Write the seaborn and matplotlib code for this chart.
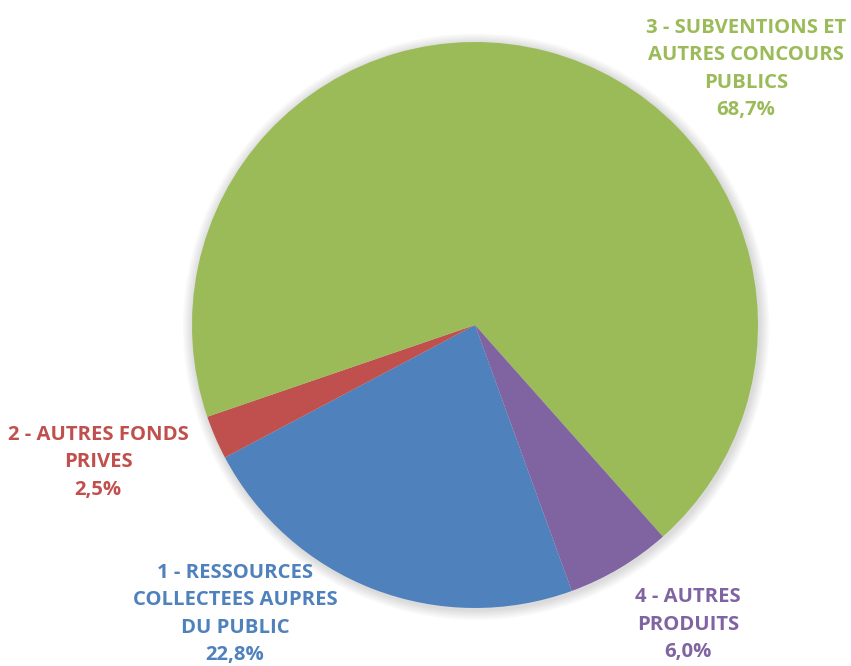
import matplotlib
matplotlib.use("Agg")
import matplotlib.pyplot as plt
import seaborn as sns

# Apply a plain white style
sns.set_style("white")
plt.rcParams['font.family'] = ['Open Sans', 'DejaVu Sans']

# Data
labels = ["1 - RESSOURCES\nCOLLECTEES AUPRES\nDU PUBLIC",
          "2 - AUTRES FONDS\nPRIVES",
          "3 - SUBVENTIONS ET\nAUTRES CONCOURS\nPUBLICS",
          "4 - AUTRES\nPRODUITS"]
shares = [22.8, 2.5, 68.7, 6.0]
share_text = ["22,8%", "2,5%", "68,7%", "6,0%"]
colors = ["#4F81BD", "#C0504D", "#9BBB59", "#8064A2"]

# label centres in pixels of the 851x666 picture
label_px = [(235, 614), (98, 462), (746, 69), (688, 625)]

cx, cy, r = 475, 325, 283

fig = plt.figure(figsize=(8.51, 6.66), dpi=100, facecolor='white')
ax = fig.add_axes([0, 0, 1, 1])

# soft shadow behind the pie
for i in range(6):
    ax.add_patch(plt.Circle((0.004, -0.006), 1 + 0.006 * (i + 1), color='#000000',
                            alpha=0.025, zorder=0, lw=0))

ax.pie(shares, colors=colors, startangle=-70, counterclock=False, radius=1,
       wedgeprops=dict(linewidth=0))

ax.set_xlim(-cx / r, (851 - cx) / r)
ax.set_ylim(-(666 - cy) / r, cy / r)
ax.set_aspect('equal')
ax.axis('off')

for lab, pct, col, (px, py) in zip(labels, share_text, colors, label_px):
    ax.text((px - cx) / r, (cy - py) / r, f"{lab}\n{pct}", color=col,
            ha='center', va='center', fontsize=14.6, fontweight='bold',
            linespacing=1.5)

plt.savefig("out.png", dpi=100, facecolor='white')
plt.close()
